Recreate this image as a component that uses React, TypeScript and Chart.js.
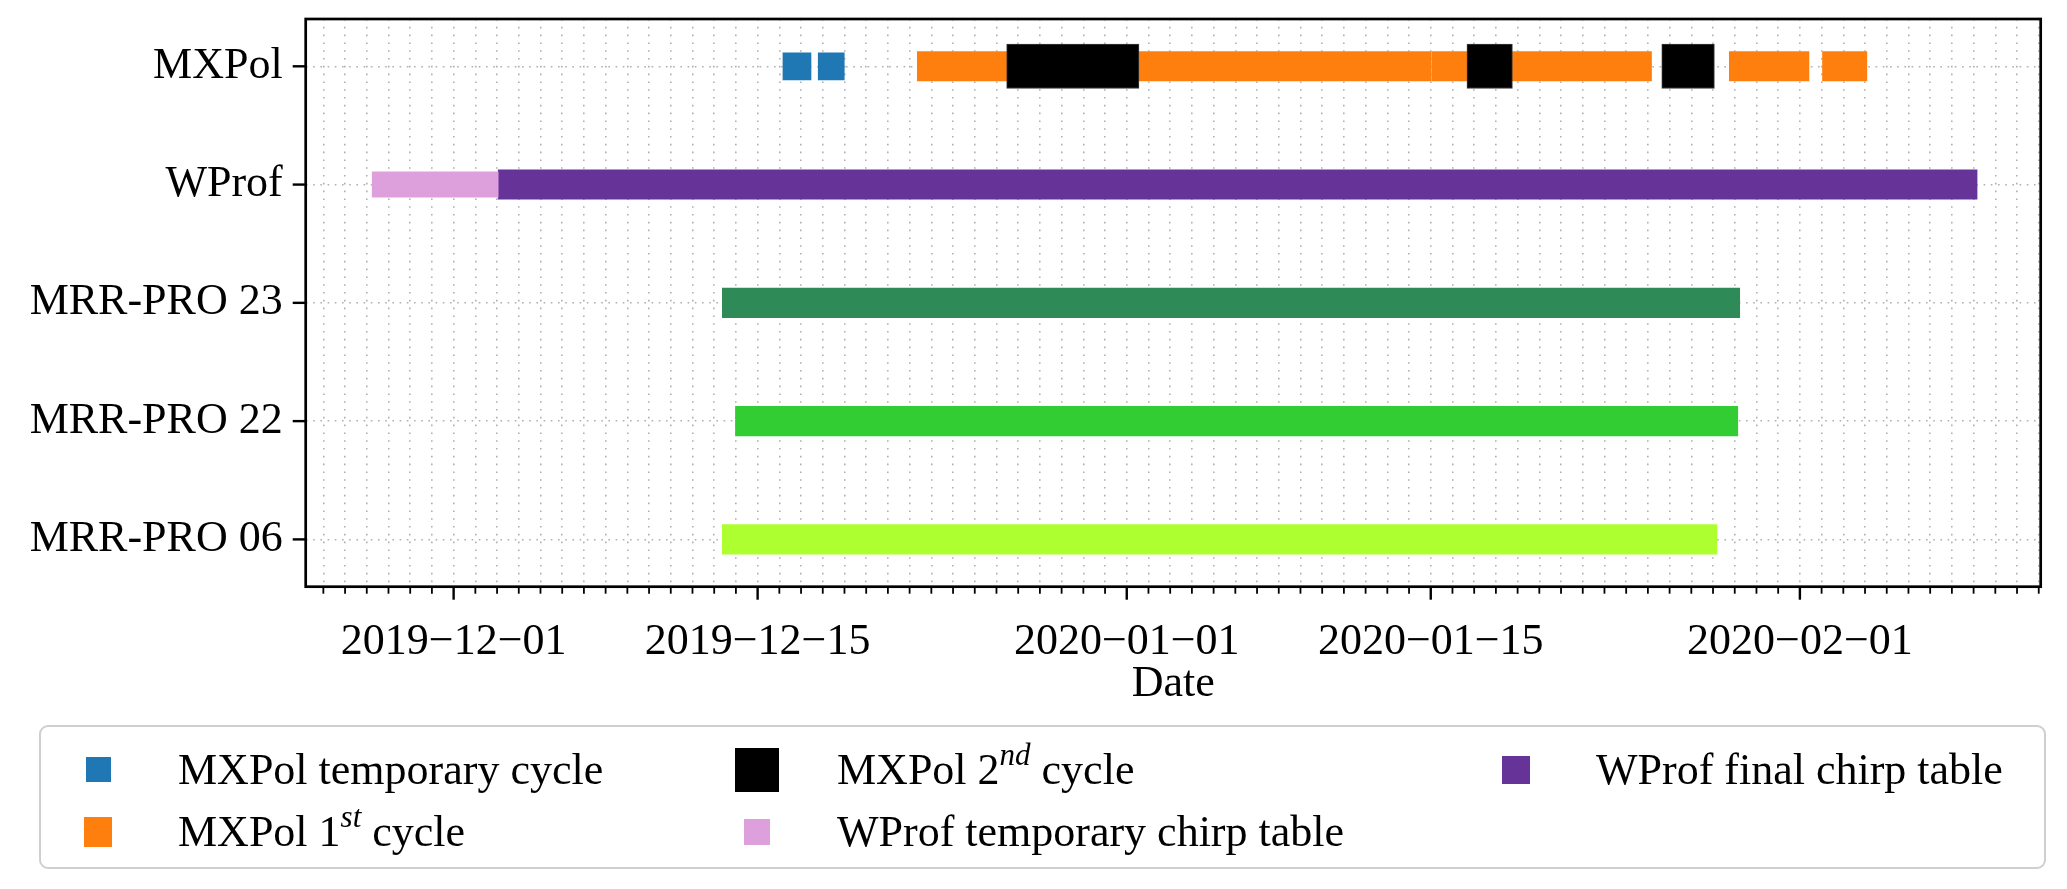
import React, { useEffect, useRef } from "react";
import { Chart, registerables } from "chart.js";

Chart.register(...registerables);

// ---------------- data ----------------
const categories = ["MXPol", "WProf", "MRR-PRO 23", "MRR-PRO 22", "MRR-PRO 06"];
const xTickLabels = ["2019-12-01", "2019-12-15", "2020-01-01", "2020-01-15", "2020-02-01"];
const xRange = ["2019-11-24T04:30", "2020-02-12T02:10"];

const mxpolTemporary = [
  ["2019-12-16T04:00", "2019-12-17T11:00"],
  ["2019-12-17T19:00", "2019-12-18T23:45"],
];
const mxpolFirst = [
  ["2019-12-22T08:30", "2020-01-15T00:00"],
  ["2020-01-15T01:00", "2020-01-25T04:00"],
  ["2020-01-28T18:00", "2020-02-01T10:00"],
  ["2020-02-02T01:00", "2020-02-04T02:00"],
];
const mxpolSecond = [
  ["2019-12-26T11:15", "2020-01-01T13:30"],
  ["2020-01-16T16:00", "2020-01-18T18:15"],
  ["2020-01-25T15:20", "2020-01-28T01:30"],
];
const wprofTemporary = [["2019-11-27T06:00", "2019-12-03T01:15"]];
const wprofFinal = [["2019-12-03T01:15", "2020-02-09T03:50"]];
const mrrPro23 = [["2019-12-13T09:00", "2020-01-29T05:30"]];
const mrrPro22 = [["2019-12-13T23:30", "2020-01-29T03:20"]];
const mrrPro06 = [["2019-12-13T09:00", "2020-01-28T04:20"]];

// ---------------- series table (built from the arrays) ----------------
const series = [
  { name: "MXPol temporary cycle", row: "MXPol", spans: mxpolTemporary, color: "#1f77b4", thick: 27, legend: [25, 25], order: 1 },
  { name: "MXPol 1st cycle", row: "MXPol", spans: mxpolFirst, color: "#ff7f0e", thick: 29.3, legend: [28, 30], order: 1 },
  { name: "MXPol 2nd cycle", row: "MXPol", spans: mxpolSecond, color: "#000000", thick: 44.3, legend: [44, 44], order: 0 },
  { name: "WProf temporary chirp table", row: "WProf", spans: wprofTemporary, color: "#dda0dd", thick: 25.4, legend: [26, 26], order: 1 },
  { name: "WProf final chirp table", row: "WProf", spans: wprofFinal, color: "#663399", thick: 29.3, legend: [28, 28], order: 1 },
  { name: "MRR-PRO 23", row: "MRR-PRO 23", spans: mrrPro23, color: "#2e8b57", thick: 29.4, legend: null, order: 1 },
  { name: "MRR-PRO 22", row: "MRR-PRO 22", spans: mrrPro22, color: "#32cd32", thick: 29.4, legend: null, order: 1 },
  { name: "MRR-PRO 06", row: "MRR-PRO 06", spans: mrrPro06, color: "#adff2f", thick: 29.4, legend: null, order: 1 },
];

const FONT = '"Liberation Serif", "Times New Roman", serif';
const FS = 44;

const toDay = (s: string) => Date.parse(s + "Z") / 86400000;
const dayToISO = (d: number) => new Date(Math.round(d) * 86400000).toISOString().slice(0, 10);

const frameTicksPlugin = {
  id: "frameTicks",
  afterDraw(chart: any) {
    const { ctx, chartArea: a } = chart;
    const x = chart.scales.x;
    const y = chart.scales.y;
    ctx.save();
    ctx.strokeStyle = "#000";
    x.ticks.forEach((t: any) => {
      const px = x.getPixelForValue(t.value);
      const major = !!t.label;
      ctx.lineWidth = major ? 2.4 : 1.8;
      ctx.beginPath();
      ctx.moveTo(px, a.bottom);
      ctx.lineTo(px, a.bottom + (major ? 13 : 7));
      ctx.stroke();
    });
    y.ticks.forEach((t: any) => {
      const py = y.getPixelForValue(t.value);
      ctx.lineWidth = 2.4;
      ctx.beginPath();
      ctx.moveTo(a.left, py);
      ctx.lineTo(a.left - 13, py);
      ctx.stroke();
    });
    ctx.lineWidth = 2.7;
    ctx.strokeRect(a.left, a.top, a.right - a.left, a.bottom - a.top);
    ctx.restore();
  },
};

function renderLabel(name: string) {
  const m = name.match(/^(.*?\d)(st|nd|rd|th)(\b.*)$/);
  if (!m) return name;
  return (
    <>
      {m[1]}
      <span style={{ fontSize: 31, fontStyle: "italic", position: "relative", top: -19 }}>{m[2]}</span>
      {m[3]}
    </>
  );
}

export default function App() {
  const canvasRef = useRef<HTMLCanvasElement | null>(null);

  useEffect(() => {
    if (!canvasRef.current) return;
    Chart.defaults.font.family = FONT;
    Chart.defaults.font.size = FS;
    Chart.defaults.color = "#000";

    const datasets = series.map((s) => ({
      label: s.name,
      data: s.spans.map(([a, b]) => ({ x: [toDay(a), toDay(b)], y: categories.indexOf(s.row) })),
      backgroundColor: s.color,
      borderColor: s.color === "#000000" ? "#3a3a3a" : s.color,
      borderWidth: s.color === "#000000" ? 1 : 0,
      borderSkipped: false,
      barThickness: s.thick,
      maxBarThickness: s.thick,
      grouped: false,
      order: s.order,
    }));

    const chart = new Chart(canvasRef.current, {
      type: "bar",
      data: { datasets: datasets as any },
      plugins: [frameTicksPlugin],
      options: {
        animation: false,
        responsive: true,
        maintainAspectRatio: false,
        indexAxis: "y",
        layout: { padding: { left: 0, top: 19, right: 26.3, bottom: 177.8 } },
        plugins: { legend: { display: false }, tooltip: { enabled: false } },
        scales: {
          x: {
            type: "linear",
            position: "bottom",
            offset: false,
            min: toDay(xRange[0]),
            max: toDay(xRange[1]),
            grid: { color: "#b0b0b0", lineWidth: 1.6, drawTicks: false, offset: false },
            border: { display: false, dash: [1.6, 6.2] },
            ticks: {
              stepSize: 1,
              includeBounds: false,
              autoSkip: false,
              maxRotation: 0,
              minRotation: 0,
              padding: 29,
              font: { family: FONT, size: FS },
              callback: (v: any) => {
                const iso = dayToISO(Number(v));
                return xTickLabels.includes(iso) ? iso.replace(/-/g, "\u2212") : "";
              },
            },
            title: { display: true, text: "Date", font: { family: FONT, size: FS }, padding: { top: 0, bottom: 0 } },
            afterFit: (scale: any) => {
              scale.height = 124.5;
              scale.paddingLeft = 0;
              scale.paddingRight = 0;
            },
          } as any,
          y: {
            type: "linear",
            reverse: true,
            offset: false,
            min: -0.4,
            max: 4.4,
            grid: { color: "#b0b0b0", lineWidth: 1.6, drawTicks: false, offset: false },
            border: { display: false, dash: [1.6, 5.6] },
            ticks: {
              stepSize: 1,
              includeBounds: false,
              autoSkip: false,
              padding: 23,
              font: { family: FONT, size: FS },
              callback: (v: any) => categories[Number(v)] ?? "",
            },
            afterFit: (scale: any) => {
              scale.width = 305.7;
              scale.paddingTop = 0;
              scale.paddingBottom = 0;
            },
          } as any,
        },
      },
    });
    return () => chart.destroy();
  }, []);

  const legendSeries = series.filter((s) => s.legend);
  const colHandleX = [98, 757, 1516];
  const rowCenterY = [769.5, 832];
  const rowBaseline = [785, 846.5];

  return (
    <div style={{ position: "fixed", left: 0, top: 0, width: 2067, height: 889, background: "#fff", overflow: "hidden" }}>
      <div style={{ position: "absolute", left: 0, top: 0, width: 2067, height: 889 }}>
        <canvas ref={canvasRef} />
      </div>
      <div
        style={{
          position: "absolute",
          left: 38.6,
          top: 725,
          width: 2046 - 38.6,
          height: 144,
          border: "2px solid #cfcfcf",
          borderRadius: 9,
          boxSizing: "border-box",
        }}
      />
      {legendSeries.map((s, i) => {
        const col = Math.floor(i / 2);
        const row = i % 2;
        const [w, h] = s.legend as number[];
        const cx = colHandleX[col];
        const cy = rowCenterY[row];
        return (
          <React.Fragment key={s.name}>
            <div style={{ position: "absolute", left: cx - w / 2, top: cy - h / 2, width: w, height: h, background: s.color }} />
            <div
              style={{
                position: "absolute",
                left: cx + 80,
                top: rowBaseline[row] - 36.85,
                fontFamily: FONT,
                fontSize: FS,
                lineHeight: "44px",
                whiteSpace: "nowrap",
                color: "#000",
              }}
            >
              {renderLabel(s.name)}
            </div>
          </React.Fragment>
        );
      })}
    </div>
  );
}
